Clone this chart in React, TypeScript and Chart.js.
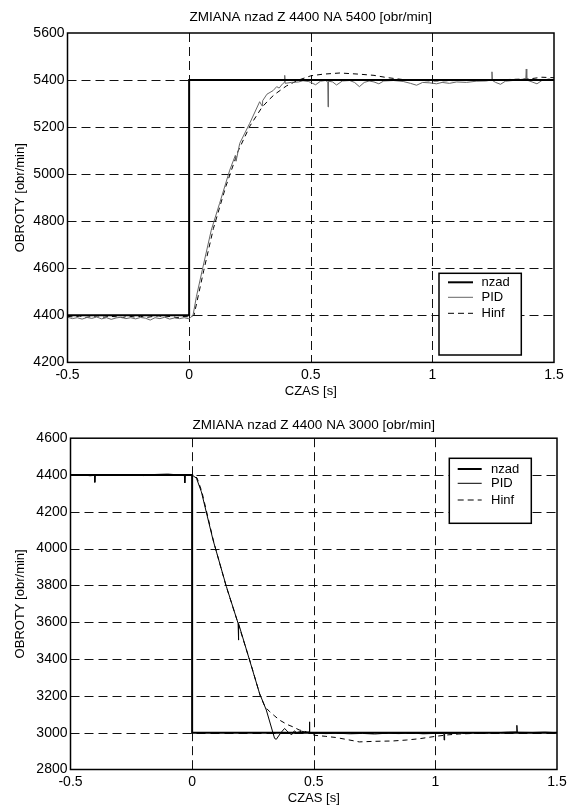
import React, { useEffect, useRef } from "react";
import { Chart, registerables } from "chart.js";

Chart.register(...registerables);

// ---------- text ----------
const topTitle = "ZMIANA nzad Z 4400 NA 5400 [obr/min]";
const bottomTitle = "ZMIANA nzad Z 4400 NA 3000 [obr/min]";
const xAxisTitle = "CZAS [s]";
const yAxisTitle = "OBROTY [obr/min]";
const legendLabels = ["nzad", "PID", "Hinf"];

// ---------- ticks ----------
const xTicks = [-0.5, 0, 0.5, 1, 1.5];
const topYTicks = [4200, 4400, 4600, 4800, 5000, 5200, 5400, 5600];
const bottomYTicks = [2800, 3000, 3200, 3400, 3600, 3800, 4000, 4200, 4400, 4600];

// ---------- top chart data (4400 -> 5400) ----------
const topNzadT = [-0.5, 0, 0, 1.5];
const topNzadV = [4400, 4400, 5400, 5400];

const topPidT = [
  -0.5, -0.48, -0.46, -0.44, -0.42, -0.4, -0.38, -0.36, -0.34, -0.32, -0.3, -0.28, -0.26,
  -0.24, -0.22, -0.2, -0.18, -0.16, -0.14, -0.12, -0.1, -0.08, -0.06, -0.04, -0.02, 0,
  0.005, 0.016, 0.03, 0.057, 0.091, 0.125, 0.167, 0.19, 0.193, 0.208, 0.249, 0.29, 0.3,
  0.302, 0.32, 0.345, 0.36, 0.37, 0.385, 0.392, 0.393, 0.395, 0.42, 0.45, 0.468, 0.49,
  0.5, 0.52, 0.54, 0.56, 0.57, 0.571, 0.573, 0.59, 0.606, 0.63, 0.66, 0.68, 0.7, 0.72,
  0.74, 0.76, 0.78, 0.8, 0.84, 0.88, 0.91, 0.935, 0.96, 0.99, 1.017, 1.04, 1.07, 1.1,
  1.14, 1.18, 1.22, 1.243, 1.245, 1.247, 1.26, 1.28, 1.3, 1.33, 1.36, 1.384, 1.386,
  1.388, 1.41, 1.43, 1.45, 1.48, 1.5,
];
const topPidV = [
  4392, 4386, 4390, 4384, 4391, 4387, 4393, 4385, 4390, 4383, 4389, 4392, 4386,
  4390, 4385, 4391, 4388, 4380, 4390, 4386, 4392, 4384, 4389, 4386, 4390, 4385,
  4390, 4400, 4480, 4606, 4762, 4875, 5017, 5080, 5055, 5131, 5216, 5308, 5290,
  5312, 5340, 5355, 5372, 5366, 5385, 5390, 5420, 5386, 5390, 5392, 5397, 5394,
  5390, 5380, 5395, 5398, 5392, 5286, 5395, 5392, 5379, 5396, 5398, 5390, 5372, 5390,
  5396, 5392, 5384, 5396, 5398, 5394, 5386, 5378, 5390, 5388, 5384, 5390, 5386, 5392,
  5390, 5395, 5396, 5400, 5435, 5398, 5390, 5382, 5395, 5398, 5402, 5405, 5447,
  5400, 5392, 5384, 5398, 5405, 5398,
];

const topHinfT = [
  -0.5, -0.475, -0.45, -0.425, -0.4, -0.375, -0.35, -0.325, -0.3, -0.275, -0.25, -0.225,
  -0.2, -0.175, -0.15, -0.125, -0.1, -0.075, -0.05, -0.025, 0, 0.02, 0.06, 0.1, 0.15,
  0.2, 0.25, 0.3, 0.33, 0.35, 0.4, 0.45, 0.5, 0.55, 0.62, 0.7, 0.76, 0.81, 0.88, 1.0,
  1.1, 1.2, 1.3, 1.4, 1.45, 1.5,
];
const topHinfV = [
  4396, 4393, 4397, 4391, 4395, 4398, 4392, 4396, 4394, 4390, 4397, 4393,
  4396, 4391, 4395, 4398, 4393, 4396, 4390, 4395, 4394, 4400, 4590, 4770, 4945,
  5095, 5205, 5285, 5318, 5338, 5375, 5400, 5418, 5425, 5430, 5425, 5420, 5411, 5402, 5396,
  5398, 5400, 5402, 5405, 5412, 5410,
];

// ---------- bottom chart data (4400 -> 3000) ----------
const bottomNzadT = [-0.5, 0, 0, 1.5];
const bottomNzadV = [4400, 4400, 3000, 3000];

const bottomPidT = [
  -0.5, -0.45, -0.42, -0.401, -0.4, -0.398, -0.35, -0.3, -0.25, -0.2, -0.15, -0.1, -0.05,
  -0.032, -0.03, -0.028, -0.01, 0, 0.018, 0.038, 0.086, 0.141, 0.189, 0.19, 0.192, 0.236,
  0.277, 0.305, 0.339, 0.346, 0.365, 0.38, 0.39, 0.4, 0.41, 0.42, 0.43, 0.45, 0.47,
  0.481, 0.482, 0.484, 0.5, 0.55, 0.6, 0.65, 0.7, 0.75, 0.8, 0.85, 0.9, 0.95, 1.0,
  1.035, 1.036, 1.038, 1.07, 1.12, 1.18, 1.24, 1.3, 1.334, 1.335, 1.337, 1.4, 1.45, 1.5,
];
const bottomPidV = [
  4398, 4401, 4396, 4398, 4360, 4399, 4402, 4399, 4401, 4397, 4403, 4405, 4400,
  4399, 4357, 4399, 4401, 4400, 4382, 4309, 4047, 3793, 3594, 3503, 3592, 3395,
  3214, 3123, 2969, 2964, 3000, 3023, 3010, 2996, 2990, 3010, 3000, 3008, 3002,
  3004, 3059, 3000, 2998, 2995, 2997, 2994, 2996, 2993, 2997, 2995, 2998, 2994, 2996,
  2996, 2960, 2995, 3000, 2998, 3001, 2999, 3003, 3004, 3040, 3002, 3001, 3003, 3000,
];

const bottomHinfT = [
  -0.5, -0.45, -0.4, -0.35, -0.3, -0.25, -0.2, -0.15, -0.1, -0.05, 0, 0.02, 0.04, 0.09,
  0.14, 0.19, 0.24, 0.28, 0.3, 0.319, 0.34, 0.36, 0.39, 0.414, 0.44, 0.469, 0.503, 0.55,
  0.59, 0.64, 0.687, 0.75, 0.824, 0.88, 0.933, 1.0, 1.05, 1.097, 1.2, 1.3, 1.5,
];
const bottomHinfV = [
  4400, 4398, 4402, 4399, 4401, 4398, 4402, 4400, 4403, 4399, 4400, 4385, 4310, 4030,
  3795, 3590, 3380, 3200, 3140, 3114, 3090, 3068, 3045, 3032, 3015, 3005, 2986, 2980,
  2974, 2962, 2950, 2953, 2955, 2960, 2967, 2980, 2988, 2993, 2998, 3000, 3000,
];

// ---------- helpers ----------
const FONT = "'Liberation Sans', Arial, Helvetica, sans-serif";
const pts = (t: number[], v: number[]) => t.map((x, i) => ({ x, y: v[i] }));

type Panel = {
  width: number;
  height: number;
  left: number;
  right: number;
  top: number;
  bottom: number;
  yMin: number;
  yMax: number;
  yTicks: number[];
  title: string;
  titleY: number;
  xTitleY: number;
  yTitleX: number;
  legend: { x: number; y: number; w: number; h: number; lineX0: number; lineX1: number; textX: number; rows: number[] };
  pidColor: string;
  nzad: { x: number; y: number }[];
  pid: { x: number; y: number }[];
  hinf: { x: number; y: number }[];
};

function decor(p: Panel) {
  return {
    id: "matlabDecor",
    beforeDatasetsDraw(chart: any) {
      const { ctx, chartArea: a, scales } = chart;
      const xs = scales.x;
      const ys = scales.y;
      ctx.save();
      ctx.strokeStyle = "#111";
      ctx.lineWidth = 1;
      ctx.setLineDash([9, 5]);
      for (const t of xTicks) {
        if (t <= xTicks[0] || t >= xTicks[xTicks.length - 1]) continue;
        const px = Math.round(xs.getPixelForValue(t)) + 0.5;
        ctx.beginPath();
        ctx.moveTo(px, a.top);
        ctx.lineTo(px, a.bottom);
        ctx.stroke();
      }
      for (const v of p.yTicks) {
        if (v <= p.yMin || v >= p.yMax) continue;
        const py = Math.round(ys.getPixelForValue(v)) + 0.5;
        ctx.beginPath();
        ctx.moveTo(a.left, py);
        ctx.lineTo(a.right, py);
        ctx.stroke();
      }
      ctx.restore();
    },
    afterDatasetsDraw(chart: any) {
      const { ctx, chartArea: a } = chart;
      ctx.save();
      // axes box
      ctx.setLineDash([]);
      ctx.strokeStyle = "#000";
      ctx.lineWidth = 1.5;
      ctx.strokeRect(a.left, a.top, a.right - a.left, a.bottom - a.top);

      // legend
      const L = p.legend;
      ctx.fillStyle = "#fff";
      ctx.fillRect(L.x, L.y, L.w, L.h);
      ctx.strokeStyle = "#000";
      ctx.lineWidth = 1.5;
      ctx.strokeRect(L.x, L.y, L.w, L.h);
      const styles = [
        { color: "#000", width: 2, dash: [] as number[] },
        { color: p.pidColor, width: 1, dash: [] as number[] },
        { color: "#000", width: 1, dash: [6, 4] },
      ];
      ctx.font = `13px ${FONT}`;
      ctx.textAlign = "left";
      ctx.textBaseline = "middle";
      legendLabels.forEach((lab, i) => {
        const s = styles[i];
        const y = L.rows[i];
        ctx.strokeStyle = s.color;
        ctx.lineWidth = s.width;
        ctx.setLineDash(s.dash);
        ctx.beginPath();
        ctx.moveTo(L.lineX0, y);
        ctx.lineTo(L.lineX1, y);
        ctx.stroke();
        ctx.fillStyle = "#000";
        ctx.fillText(lab, L.textX, y);
      });
      ctx.setLineDash([]);

      // titles
      ctx.fillStyle = "#000";
      ctx.textAlign = "center";
      ctx.textBaseline = "middle";
      ctx.font = `13.5px ${FONT}`;
      ctx.fillText(p.title, (a.left + a.right) / 2, p.titleY);
      ctx.font = `13px ${FONT}`;
      ctx.fillText(xAxisTitle, (a.left + a.right) / 2, p.xTitleY);
      ctx.translate(p.yTitleX, (a.top + a.bottom) / 2);
      ctx.rotate(-Math.PI / 2);
      ctx.fillText(yAxisTitle, 0, 0);
      ctx.restore();
    },
  };
}

function makeConfig(p: Panel): any {
  return {
    type: "line",
    data: {
      datasets: [
        { label: legendLabels[0], data: p.nzad, borderColor: "#000", borderWidth: 2, pointRadius: 0, tension: 0, fill: false },
        { label: legendLabels[1], data: p.pid, borderColor: p.pidColor, borderWidth: 1, pointRadius: 0, tension: 0, fill: false },
        { label: legendLabels[2], data: p.hinf, borderColor: "#000", borderWidth: 1, borderDash: [5, 4], pointRadius: 0, tension: 0, fill: false },
      ],
    },
    options: {
      animation: false,
      responsive: false,
      maintainAspectRatio: false,
      events: [],
      layout: { padding: { left: 0, top: p.top, right: p.width - p.right, bottom: 0 } },
      plugins: { legend: { display: false }, title: { display: false }, tooltip: { enabled: false } },
      scales: {
        x: {
          type: "linear",
          min: -0.5,
          max: 1.5,
          afterBuildTicks: (s: any) => {
            s.ticks = xTicks.map((v) => ({ value: v }));
          },
          afterFit: (s: any) => {
            s.height = p.height - p.bottom;
          },
          grid: { display: false, drawTicks: false },
          border: { display: false },
          ticks: {
            autoSkip: false,
            maxRotation: 0,
            padding: 4,
            color: "#000",
            font: { family: FONT, size: 14 },
            callback: (v: number) => String(v),
          },
        },
        y: {
          type: "linear",
          min: p.yMin,
          max: p.yMax,
          afterBuildTicks: (s: any) => {
            s.ticks = p.yTicks.map((v) => ({ value: v }));
          },
          afterFit: (s: any) => {
            s.width = p.left;
          },
          grid: { display: false, drawTicks: false },
          border: { display: false },
          ticks: {
            autoSkip: false,
            padding: 3,
            color: "#000",
            font: { family: FONT, size: 14 },
            callback: (v: number) => String(v),
          },
        },
      },
    },
    plugins: [decor(p)],
  };
}

const topPanel: Panel = {
  width: 573,
  height: 402,
  left: 67.5,
  right: 554,
  top: 33,
  bottom: 362.4,
  yMin: 4200,
  yMax: 5600,
  yTicks: topYTicks,
  title: topTitle,
  titleY: 17,
  xTitleY: 391,
  yTitleX: 20,
  legend: { x: 439, y: 273.3, w: 82.3, h: 81.7, lineX0: 448, lineX1: 473, textX: 481.5, rows: [282.3, 297.3, 313.3] },
  pidColor: "#666",
  nzad: pts(topNzadT, topNzadV),
  pid: pts(topPidT, topPidV),
  hinf: pts(topHinfT, topHinfV),
};

const bottomPanel: Panel = {
  width: 573,
  height: 403,
  left: 70.5,
  right: 557,
  top: 36.2,
  bottom: 367.5,
  yMin: 2800,
  yMax: 4600,
  yTicks: bottomYTicks,
  title: bottomTitle,
  titleY: 23,
  xTitleY: 396,
  yTitleX: 20,
  legend: { x: 449.3, y: 56.3, w: 82, h: 65, lineX0: 457.7, lineX1: 481.7, textX: 491, rows: [67, 81.3, 98] },
  pidColor: "#000",
  nzad: pts(bottomNzadT, bottomNzadV),
  pid: pts(bottomPidT, bottomPidV),
  hinf: pts(bottomHinfT, bottomHinfV),
};

function Panel({ spec, top }: { spec: Panel; top: number }) {
  const ref = useRef<HTMLCanvasElement | null>(null);
  useEffect(() => {
    if (!ref.current) return;
    const chart = new Chart(ref.current, makeConfig(spec));
    return () => chart.destroy();
  }, [spec]);
  return (
    <canvas
      ref={ref}
      width={spec.width}
      height={spec.height}
      style={{ position: "absolute", left: 0, top, width: spec.width, height: spec.height, display: "block" }}
    />
  );
}

export default function App() {
  return (
    <div style={{ position: "absolute", left: 0, top: 0, width: 573, height: 805, background: "#fff" }}>
      <Panel spec={topPanel} top={0} />
      <Panel spec={bottomPanel} top={402} />
    </div>
  );
}
